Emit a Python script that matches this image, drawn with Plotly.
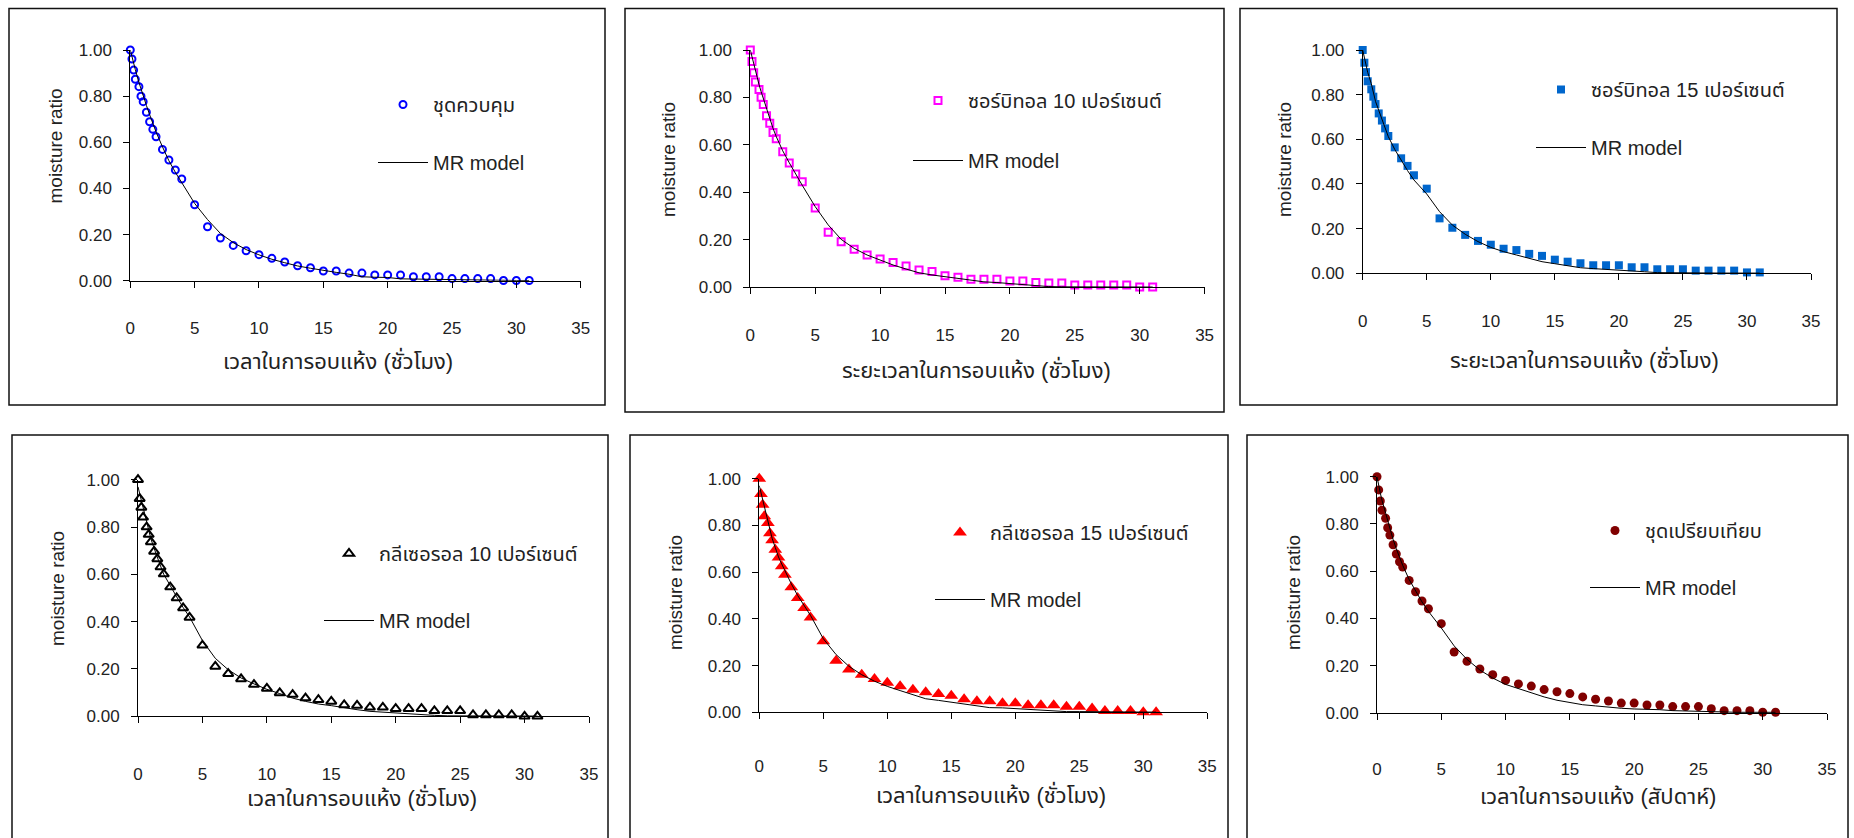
import plotly.graph_objects as go

W, H = 1854, 838
FONT = "Liberation Sans, Noto Sans Thai, Noto Sans, DejaVu Sans, sans-serif"

# drying time (hours) shared by every treatment
hours = [0, 0.13, 0.26, 0.39, 0.67, 0.83, 1.0, 1.25, 1.5, 1.75, 2.0, 2.5, 3.0, 3.5, 4.0,
         5, 6, 7, 8, 9, 10, 11, 12, 13, 14, 15, 16, 17, 18, 19, 20,
         21, 22, 23, 24, 25, 26, 27, 28, 29, 30, 31]

# measured moisture ratio
mr_control = [1.000, 0.961, 0.913, 0.873, 0.841, 0.800, 0.776, 0.730, 0.689, 0.656, 0.624,
              0.569, 0.523, 0.480, 0.441, 0.329, 0.234, 0.185, 0.153, 0.130, 0.113, 0.097,
              0.081, 0.065, 0.056, 0.042, 0.042, 0.033, 0.033, 0.025, 0.025, 0.025, 0.017,
              0.017, 0.017, 0.009, 0.009, 0.009, 0.009, 0.001, 0.001, 0.001]
mr_sorb10 = [1.000, 0.952, 0.904, 0.865, 0.834, 0.801, 0.770, 0.723, 0.691, 0.652, 0.626,
             0.571, 0.524, 0.477, 0.445, 0.334, 0.232, 0.192, 0.160, 0.136, 0.119, 0.105,
             0.090, 0.073, 0.067, 0.049, 0.042, 0.034, 0.034, 0.034, 0.027, 0.027, 0.020,
             0.018, 0.018, 0.010, 0.010, 0.010, 0.010, 0.010, 0.001, 0.001]
mr_sorb15 = [1.000, 0.943, 0.901, 0.860, 0.824, 0.791, 0.758, 0.716, 0.684, 0.649, 0.615,
             0.564, 0.515, 0.481, 0.439, 0.379, 0.246, 0.204, 0.172, 0.145, 0.128, 0.110,
             0.104, 0.087, 0.078, 0.061, 0.052, 0.045, 0.036, 0.036, 0.036, 0.027, 0.027,
             0.018, 0.018, 0.018, 0.012, 0.012, 0.012, 0.012, 0.004, 0.004]
mr_glyc10 = [1.000, 0.920, 0.883, 0.841, 0.800, 0.768, 0.737, 0.697, 0.665, 0.631, 0.601,
             0.546, 0.500, 0.458, 0.418, 0.300, 0.211, 0.180, 0.158, 0.134, 0.118, 0.099,
             0.092, 0.077, 0.070, 0.063, 0.048, 0.046, 0.038, 0.038, 0.032, 0.032, 0.032,
             0.023, 0.023, 0.023, 0.006, 0.006, 0.006, 0.006, 0.000, 0.000]
mr_glyc15 = [1.000, 0.934, 0.889, 0.839, 0.810, 0.767, 0.736, 0.696, 0.663, 0.625, 0.589,
             0.535, 0.489, 0.446, 0.406, 0.304, 0.221, 0.183, 0.161, 0.143, 0.126, 0.111,
             0.096, 0.086, 0.078, 0.071, 0.056, 0.047, 0.047, 0.039, 0.039, 0.030, 0.030,
             0.030, 0.024, 0.024, 0.016, 0.006, 0.006, 0.006, 0.000, 0.000]
mr_compare = [1.000, 0.944, 0.897, 0.858, 0.824, 0.784, 0.753, 0.712, 0.673, 0.640, 0.618,
              0.561, 0.513, 0.474, 0.441, 0.378, 0.258, 0.219, 0.186, 0.162, 0.138, 0.123,
              0.114, 0.099, 0.090, 0.082, 0.068, 0.058, 0.051, 0.042, 0.042, 0.034, 0.034,
              0.027, 0.027, 0.027, 0.018, 0.010, 0.010, 0.010, 0.003, 0.003]

# fitted moisture ratio (MR model)
fit_control = [1.00, 0.97, 0.945, 0.915, 0.86, 0.83, 0.80, 0.76, 0.72, 0.68, 0.645,
               0.58, 0.52, 0.47, 0.425, 0.335, 0.265, 0.205, 0.165, 0.135, 0.112, 0.093,
               0.078, 0.064, 0.054, 0.044, 0.036, 0.028, 0.017, 0.015, 0.014, 0.008, 0.007,
               0.006, 0.005, 0.005, 0.003, 0.002, 0.002, 0.001, 0.001, 0.001]
fit_sorb10 = [1.00, 0.97, 0.94, 0.91, 0.855, 0.825, 0.795, 0.75, 0.71, 0.67, 0.635,
              0.575, 0.525, 0.475, 0.43, 0.34, 0.263, 0.202, 0.164, 0.136, 0.115, 0.094,
              0.077, 0.061, 0.052, 0.045, 0.037, 0.029, 0.023, 0.020, 0.015, 0.011, 0.006,
              0.003, 0.002, 0.002, 0.001, 0.001, 0.001, 0.001, 0.001, 0.001]
fit_sorb15 = [1.00, 0.97, 0.94, 0.90, 0.85, 0.81, 0.77, 0.73, 0.69, 0.65, 0.612,
              0.555, 0.505, 0.46, 0.418, 0.355, 0.276, 0.216, 0.175, 0.142, 0.116, 0.097,
              0.082, 0.067, 0.052, 0.043, 0.033, 0.025, 0.021, 0.018, 0.016, 0.013, 0.007,
              0.003, 0.002, 0.002, 0.002, 0.001, 0.001, 0.001, 0.001, 0.001]
fit_glyc10 = [0.97, 0.94, 0.91, 0.88, 0.82, 0.785, 0.75, 0.71, 0.67, 0.635, 0.60,
              0.55, 0.505, 0.46, 0.42, 0.32, 0.245, 0.197, 0.162, 0.137, 0.114, 0.096,
              0.077, 0.063, 0.052, 0.045, 0.035, 0.028, 0.021, 0.017, 0.014, 0.011, 0.007,
              0.004, 0.002, 0.002, 0.001, 0.001, 0.001, 0.001, 0.001, 0.001]
fit_glyc15 = [0.97, 0.94, 0.91, 0.875, 0.82, 0.785, 0.745, 0.705, 0.665, 0.635, 0.605,
              0.55, 0.50, 0.455, 0.415, 0.315, 0.247, 0.197, 0.161, 0.133, 0.111, 0.093,
              0.076, 0.058, 0.051, 0.044, 0.036, 0.027, 0.020, 0.019, 0.016, 0.011, 0.009,
              0.006, 0.003, 0.003, 0.002, 0.001, 0.001, 0.001, 0.001, 0.001]
fit_compare = [1.00, 0.96, 0.93, 0.90, 0.845, 0.81, 0.775, 0.735, 0.695, 0.66, 0.625,
               0.565, 0.515, 0.47, 0.43, 0.36, 0.284, 0.227, 0.182, 0.148, 0.121, 0.103,
               0.086, 0.068, 0.054, 0.044, 0.035, 0.030, 0.024, 0.020, 0.017, 0.016, 0.014,
               0.010, 0.008, 0.007, 0.006, 0.004, 0.003, 0.003, 0.003, 0.003]

series_names = ["ชุดควบคุม", "ซอร์บิทอล 10 เปอร์เซนต์", "ซอร์บิทอล 15 เปอร์เซนต์",
                "กลีเซอรอล 10 เปอร์เซนต์", "กลีเซอรอล 15 เปอร์เซนต์", "ชุดเปรียบเทียบ"]
x_titles = ["เวลาในการอบแห้ง (ชั่วโมง)", "ระยะเวลาในการอบแห้ง (ชั่วโมง)",
            "ระยะเวลาในการอบแห้ง (ชั่วโมง)", "เวลาในการอบแห้ง (ชั่วโมง)",
            "เวลาในการอบแห้ง (ชั่วโมง)", "เวลาในการอบแห้ง (สัปดาห์)"]
y_title = "moisture ratio"
model_name = "MR model"
x_ticks = [0, 5, 10, 15, 20, 25, 30, 35]
y_ticks = [0.0, 0.2, 0.4, 0.6, 0.8, 1.0]

measured = [mr_control, mr_sorb10, mr_sorb15, mr_glyc10, mr_glyc15, mr_compare]
fitted = [fit_control, fit_sorb10, fit_sorb15, fit_glyc10, fit_glyc15, fit_compare]

# marker style of each treatment
markers = [
    dict(symbol="circle-open", size=7, color="#0000FF", line=dict(width=2, color="#0000FF")),
    dict(symbol="square-open", size=7, color="#FF00FF", line=dict(width=2, color="#FF00FF")),
    dict(symbol="square", size=8, color="#0066CC"),
    dict(symbol="triangle-up-open", size=9, color="#000000", line=dict(width=2, color="#000000")),
    dict(symbol="triangle-up", size=12, color="#FF0000"),
    dict(symbol="circle", size=9, color="#800000"),
]

# pixel geometry of each panel: plot area, frame, titles, legend
panels = [
    dict(px=(130.3, 580.7), py=(50.0, 280.7), box=(9, 8.5, 605, 405),
         xt=(338, 360), yt=(55.5, 146), stand=26, leg=(435, 105, 163)),
    dict(px=(750.3, 1204.6), py=(50.0, 287.3), box=(625, 8.5, 1224, 412),
         xt=(976, 370), yt=(669, 160), stand=26, leg=(970, 101, 161)),
    dict(px=(1362.7, 1811.0), py=(50.0, 273.3), box=(1240, 8.5, 1837, 405),
         xt=(1584, 359), yt=(1285, 160), stand=26, leg=(1593, 90, 148)),
    dict(px=(138.0, 589.0), py=(479.7, 716.3), box=(12, 435, 608, 850),
         xt=(362, 797), yt=(57, 589), stand=36, leg=(381, 554, 621)),
    dict(px=(759.3, 1207.3), py=(478.7, 712.3), box=(630, 435, 1228, 850),
         xt=(991, 794), yt=(675, 593), stand=32, leg=(992, 533, 600)),
    dict(px=(1377.0, 1827.0), py=(476.7, 713.0), box=(1247, 435, 1848, 850),
         xt=(1598, 796), yt=(1293, 593), stand=35, leg=(1647, 531, 588)),
]


def fx(px):
    """x pixel -> paper fraction"""
    return px / W


def fy(py):
    """y pixel (from top) -> paper fraction"""
    return 1 - py / H


fig = go.Figure()
layout = dict(
    width=W, height=H, autosize=False,
    # keep the plot area on the full canvas: nothing may push the margins out
    margin=dict(l=0, r=0, t=0, b=0, pad=0, autoexpand=False),
    paper_bgcolor="white", plot_bgcolor="white",
    font=dict(family=FONT, size=17, color="#222222"),
    shapes=[], annotations=[],
)

for i, p in enumerate(panels):
    n = i + 1
    sfx = "" if n == 1 else str(n)
    xa, ya = "x" + sfx, "y" + sfx
    lg = "legend" + sfx

    fig.add_trace(go.Scatter(
        x=hours, y=measured[i], mode="markers", name=series_names[i],
        marker=markers[i], xaxis=xa, yaxis=ya, cliponaxis=False,
        legend=lg, legendgroup="data%d" % n))
    fig.add_trace(go.Scatter(
        x=hours, y=fitted[i], mode="lines", name=model_name,
        line=dict(color="#000000", width=1), xaxis=xa, yaxis=ya, cliponaxis=False,
        legend=lg, legendgroup="fit%d" % n))

    x0, x1 = p["px"]
    ytop, ybot = p["py"]
    layout["xaxis" + sfx] = dict(
        domain=[fx(x0), fx(x1)], anchor=ya, range=[0, 35], tickvals=x_ticks,
        ticks="outside", ticklen=6, tickwidth=1, tickcolor="#000",
        showline=True, linecolor="#000", linewidth=1, showgrid=False, zeroline=False,
        ticklabelstandoff=p["stand"], tickfont=dict(size=17, color="#222"),
        automargin=False,
    )
    layout["yaxis" + sfx] = dict(
        domain=[fy(ybot), fy(ytop)], anchor=xa, range=[0, 1], tickvals=y_ticks,
        tickformat=".2f", ticks="outside", ticklen=6, tickwidth=1, tickcolor="#000",
        showline=True, linecolor="#000", linewidth=1, showgrid=False, zeroline=False,
        ticklabelstandoff=8, tickfont=dict(size=17, color="#222"),
        automargin=False,
    )

    bx0, by0, bx1, by1 = p["box"]
    layout["shapes"].append(dict(
        type="rect", xref="paper", yref="paper",
        x0=fx(bx0), x1=fx(bx1), y0=fy(by1), y1=fy(by0),
        line=dict(color="#111", width=1.5), fillcolor="rgba(0,0,0,0)", layer="below"))

    tx, ty = p["xt"]
    layout["annotations"].append(dict(
        text=x_titles[i], xref="paper", yref="paper", x=fx(tx), y=fy(ty),
        xanchor="center", yanchor="middle", showarrow=False,
        font=dict(size=22, color="#222")))
    vx, vy = p["yt"]
    layout["annotations"].append(dict(
        text=y_title, xref="paper", yref="paper", x=fx(vx), y=fy(vy),
        xanchor="center", yanchor="middle", showarrow=False, textangle=-90,
        font=dict(size=19, color="#222")))

    text_x, my, ly = p["leg"]
    layout[lg] = dict(
        x=fx(text_x - 62), y=fy(my - 20), xanchor="left", yanchor="top",
        bgcolor="rgba(0,0,0,0)", borderwidth=0, itemwidth=50,
        tracegroupgap=max(ly - my - 29, 0), traceorder="grouped",
        font=dict(size=20, family=FONT, color="#222"),
    )

fig.update_layout(**layout)
fig.write_html("out.html")
